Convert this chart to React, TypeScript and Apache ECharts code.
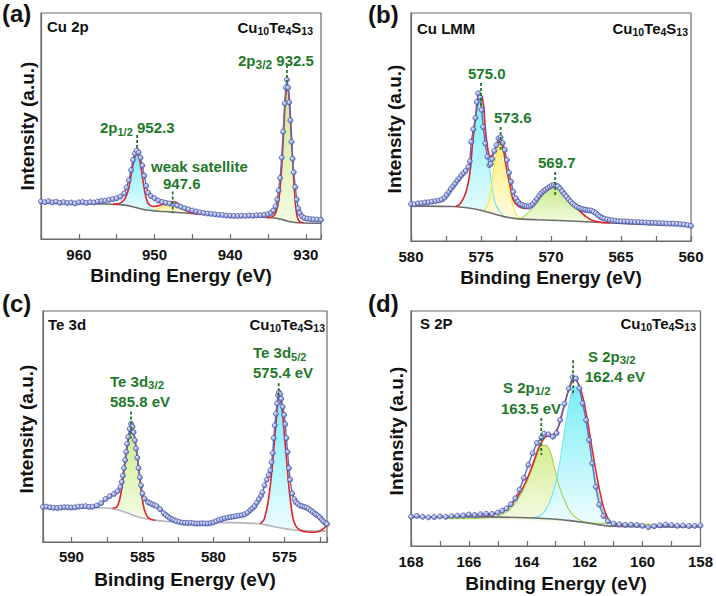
import React, { useEffect, useRef } from "react";
import * as echarts from "echarts";

// ---------- Panel (a) Cu 2p ----------
const aData: number[][] = [
  [965.0, 16.6], [964.5, 16.3], [964.0, 16.7], [963.5, 16.2], [963.0, 16.5], [962.5, 16.0], [962.0, 16.3],
  [961.5, 15.9], [961.0, 16.1], [960.5, 15.8], [960.0, 16.2], [959.5, 16.4], [959.0, 16.0], [958.5, 16.3],
  [958.0, 16.2], [957.5, 16.6], [957.0, 16.8], [956.5, 17.0], [956.0, 17.3], [955.5, 17.7], [955.0, 18.0],
  [954.5, 18.8], [954.0, 20.2], [953.7, 22.8], [953.4, 26.0], [953.1, 30.5], [952.85, 35.0], [952.6, 37.8],
  [952.35, 39.1], [952.1, 38.3], [951.85, 36.0], [951.6, 32.5], [951.35, 28.0], [951.1, 23.5], [950.85, 20.5],
  [950.5, 19.0], [950.0, 18.0], [949.5, 17.0], [949.0, 16.4], [948.5, 16.0], [948.0, 15.7], [947.5, 15.4],
  [947.0, 14.8], [946.5, 14.2], [946.0, 13.6], [945.5, 13.1], [945.0, 12.6], [944.5, 12.2], [944.0, 11.8],
  [943.5, 11.5], [943.0, 11.3], [942.5, 11.1], [942.0, 10.9], [941.5, 10.7], [941.0, 10.6], [940.5, 10.4],
  [940.0, 10.3], [939.5, 10.2], [939.0, 10.2], [938.5, 10.3], [938.0, 10.2], [937.5, 10.4], [937.0, 10.3],
  [936.5, 10.5], [936.0, 10.5], [935.5, 10.7], [935.0, 11.0], [934.6, 11.6], [934.3, 12.6], [934.0, 14.5],
  [933.8, 17.5], [933.6, 21.5], [933.4, 27.0], [933.2, 36.0], [933.0, 47.5], [932.8, 60.0], [932.65, 67.0],
  [932.5, 70.5], [932.35, 67.0], [932.2, 60.5], [932.05, 52.5], [931.9, 43.0], [931.75, 35.5], [931.6, 29.5],
  [931.4, 23.0], [931.2, 17.5], [931.0, 13.5], [930.8, 11.5], [930.5, 10.0], [930.2, 9.3], [929.8, 9.0],
  [929.4, 8.8], [929.0, 8.7], [928.5, 8.6], [928.0, 8.5],
];
const aBackground: number[][] = [
  [965, 15.9], [960, 15.7], [957, 15.5], [955, 15.3], [954, 15.0], [953, 14.4], [952, 13.5], [951, 12.8],
  [950, 12.4], [948, 12.0], [945, 11.3], [942, 10.7], [938, 10.1], [935, 9.5], [934, 9.2], [933.3, 8.7],
  [932.5, 8.0], [931.8, 7.5], [931, 7.2], [929.5, 7.0], [928, 7.0],
];
const aEnvelope1: number[][] = [
  [955.5, 15.3], [954.8, 15.6], [954.2, 16.6], [953.8, 18.5], [953.4, 22.5], [953.1, 28.0], [952.8, 33.5],
  [952.55, 36.8], [952.3, 37.5], [952.05, 36.2], [951.8, 32.0], [951.5, 25.5], [951.2, 19.5], [950.9, 16.2],
  [950.5, 14.7], [950.0, 14.4], [949.4, 14.8], [948.8, 15.5], [948.2, 16.2], [947.6, 16.5], [947.0, 15.9],
  [946.5, 14.6], [946.0, 13.0], [945.5, 11.9], [945.0, 11.4], [944.2, 11.1],
];
const aEnvelope2: number[][] = [
  [935.2, 9.5], [934.6, 9.6], [934.2, 10.5], [933.9, 12.5], [933.6, 17.0], [933.35, 24.5], [933.1, 37.0],
  [932.9, 50.0], [932.7, 61.5], [932.55, 66.5], [932.4, 67.5], [932.25, 64.5], [932.05, 55.0], [931.85, 42.0],
  [931.65, 29.0], [931.45, 18.5], [931.25, 11.8], [931.0, 8.6], [930.7, 7.6], [930.3, 7.2],
];
// fitted components: [energy, base, top]
const aPeak2p12: number[][] = [
  [955.3, 15.3, 15.35], [954.8, 15.2, 15.55], [954.2, 15.0, 16.5], [953.8, 14.8, 18.3], [953.4, 14.5, 22.2],
  [953.1, 14.3, 27.6], [952.8, 14.0, 33.0], [952.55, 13.8, 36.2], [952.3, 13.6, 36.9], [952.05, 13.4, 35.5],
  [951.8, 13.2, 31.2], [951.5, 13.0, 24.6], [951.2, 12.8, 18.6], [950.9, 12.6, 15.0], [950.5, 12.5, 13.2],
  [950.0, 12.4, 12.7], [949.4, 12.3, 12.4],
];
const aSatellite: number[][] = [
  [950.3, 12.45, 12.5], [949.8, 12.35, 13.1], [949.2, 12.25, 14.0], [948.6, 12.1, 15.0], [948.1, 12.0, 15.7],
  [947.6, 11.9, 16.0], [947.1, 11.8, 15.6], [946.6, 11.7, 14.5], [946.1, 11.55, 13.0], [945.6, 11.4, 11.9],
  [945.0, 11.3, 11.35],
];
const aPeak2p32: number[][] = [
  [935.0, 9.5, 9.55], [934.4, 9.3, 9.9], [934.0, 9.2, 11.0], [933.7, 9.0, 14.0], [933.45, 8.85, 20.5],
  [933.2, 8.7, 31.5], [933.0, 8.55, 43.0], [932.8, 8.4, 55.5], [932.6, 8.2, 64.0], [932.45, 8.05, 66.8],
  [932.3, 7.95, 65.8], [932.1, 7.8, 58.5], [931.9, 7.65, 46.0], [931.7, 7.55, 32.5], [931.5, 7.45, 21.0],
  [931.3, 7.35, 13.0], [931.05, 7.25, 8.6], [930.7, 7.15, 7.35],
];
// dashed peak markers: [energy, from, to]
const aMarkers: number[][] = [[932.5, 77, 69.5], [952.3, 46, 39.5], [947.6, 21, 11.4]];

// ---------- Panel (b) Cu LMM ----------
const bData: number[][] = [
  [580.0, 16.2], [579.75, 16.1], [579.5, 16.5], [579.25, 16.6], [579.0, 16.9], [578.75, 17.0], [578.5, 17.3],
  [578.25, 17.5], [578.0, 17.8], [577.8, 18.2], [577.6, 19.0], [577.45, 20.2], [577.3, 21.5], [577.15, 22.8],
  [577.0, 24.0], [576.85, 25.2], [576.7, 26.5], [576.55, 27.6], [576.4, 28.8], [576.25, 29.8], [576.1, 30.8],
  [575.9, 32.5], [575.8, 35.0], [575.7, 43.5], [575.55, 49.0], [575.4, 54.0], [575.3, 61.0], [575.2, 64.8],
  [575.05, 63.0], [574.95, 57.5], [574.85, 50.0], [574.7, 42.8], [574.55, 37.0], [574.4, 33.3], [574.3, 33.8],
  [574.2, 36.0], [574.05, 39.5], [573.9, 42.1], [573.75, 45.0], [573.6, 45.5], [573.45, 43.0], [573.3, 40.0],
  [573.15, 35.5], [573.0, 30.0], [572.85, 26.0], [572.7, 21.6], [572.5, 18.7], [572.35, 17.2], [572.2, 16.2],
  [572.05, 15.8], [571.9, 15.4], [571.75, 15.2], [571.6, 15.1], [571.45, 15.5], [571.3, 16.2], [571.15, 17.3],
  [571.0, 18.5], [570.85, 19.8], [570.7, 20.9], [570.55, 21.8], [570.4, 22.5], [570.25, 23.2], [570.1, 23.8],
  [569.95, 24.3], [569.8, 24.6], [569.65, 24.4], [569.5, 24.0], [569.35, 23.0], [569.2, 21.8], [569.05, 20.6],
  [568.9, 19.5], [568.75, 18.4], [568.6, 17.3], [568.45, 16.4], [568.3, 15.6], [568.15, 15.0], [568.0, 14.5],
  [567.85, 14.2], [567.7, 13.9], [567.55, 13.7], [567.4, 13.5], [567.25, 13.4], [567.1, 13.3], [566.95, 12.8],
  [566.8, 12.2], [566.65, 11.4], [566.5, 10.7], [566.35, 10.2], [566.2, 9.8], [566.0, 9.5], [565.8, 9.2],
  [565.6, 9.0], [565.4, 8.8], [565.2, 8.7], [565.0, 8.6], [564.75, 8.6], [564.5, 8.5], [564.25, 8.4],
  [564.0, 8.3], [563.75, 8.3], [563.5, 8.2], [563.25, 8.1], [563.0, 8.0], [562.75, 8.0], [562.5, 7.9],
  [562.25, 7.8], [562.0, 7.8], [561.75, 7.7], [561.5, 7.6], [561.25, 7.6], [561.0, 7.5], [560.75, 7.4],
  [560.5, 7.2], [560.25, 7.0], [560.0, 6.6],
];
const bBackground: number[][] = [
  [580, 15.4], [577, 15.1], [576, 14.6], [575, 13.5], [574.5, 12.6], [573.5, 10.9], [572.5, 9.8], [571, 9.3],
  [569, 8.9], [566, 8.0], [563, 7.3], [560, 6.7],
];
const bEnvelope: number[][] = [
  [576.8, 15.1], [576.5, 16.2], [576.1, 20.9], [575.8, 29.6], [575.6, 42.8], [575.35, 55.9], [575.15, 62.6],
  [575.0, 64.0], [574.8, 58.9], [574.7, 48.7], [574.5, 39.9], [574.35, 37.0], [574.1, 38.5], [573.8, 42.8],
  [573.65, 43.6], [573.4, 39.9], [573.2, 32.6], [572.9, 23.8], [572.7, 18.0], [572.3, 15.1], [571.8, 14.3],
  [571.3, 16.5], [570.6, 20.9], [570.0, 23.8], [569.7, 24.3], [569.3, 23.1], [568.6, 18.0], [567.9, 12.9],
  [567.2, 9.5], [566.5, 8.2], [565.8, 7.9],
];
const bPeak5750: number[][] = [
  [576.8, 15.1, 15.2], [576.5, 15.0, 16.1], [576.1, 14.9, 20.8], [575.8, 14.7, 29.5], [575.6, 14.5, 42.5],
  [575.35, 14.2, 55.5], [575.15, 14.0, 62.0], [575.0, 13.8, 63.3], [574.8, 13.5, 57.5], [574.6, 13.2, 46.0],
  [574.4, 12.9, 33.0], [574.2, 12.6, 23.0], [574.0, 12.3, 17.0], [573.7, 11.8, 13.2], [573.4, 11.2, 11.4],
];
const bPeak5736: number[][] = [
  [574.8, 13.2, 13.3], [574.5, 12.8, 16.0], [574.3, 12.6, 22.0], [574.1, 12.3, 31.0], [573.9, 12.0, 38.5],
  [573.7, 11.6, 42.0], [573.55, 11.3, 42.3], [573.4, 11.0, 38.8], [573.2, 10.6, 31.8], [573.0, 10.3, 24.0],
  [572.8, 10.0, 17.5], [572.6, 9.8, 13.0], [572.3, 9.6, 10.3], [572.0, 9.5, 9.6],
];
const bPeak5697: number[][] = [
  [572.2, 9.5, 9.6], [571.8, 9.4, 11.5], [571.3, 9.3, 14.5], [570.8, 9.2, 18.5], [570.3, 9.1, 22.0],
  [569.9, 9.0, 23.6], [569.7, 9.0, 23.9], [569.4, 8.9, 23.2], [569.0, 8.8, 21.0], [568.6, 8.7, 17.8],
  [568.2, 8.6, 14.5], [567.8, 8.5, 12.0], [567.3, 8.3, 9.8], [566.8, 8.2, 8.6], [566.3, 8.0, 8.1],
];
const bMarkers: number[][] = [[575.0, 69.3, 58.8], [573.6, 50, 40], [569.7, 30.3, 19.3]];

// ---------- Panel (c) Te 3d ----------
const cData: number[][] = [
  [592.0, 15.2], [591.75, 15.3], [591.5, 15.0], [591.25, 14.8], [591.0, 14.7], [590.75, 14.9], [590.5, 15.1],
  [590.25, 15.0], [590.0, 14.9], [589.75, 15.0], [589.5, 15.3], [589.25, 15.4], [589.0, 15.5], [588.75, 15.2],
  [588.5, 15.3], [588.2, 15.8], [587.9, 16.8], [587.6, 18.6], [587.3, 19.8], [587.0, 20.8], [586.75, 22.0],
  [586.55, 23.8], [586.45, 26.0], [586.38, 28.7], [586.3, 32.0], [586.22, 35.5], [586.15, 39.0], [586.08, 42.5],
  [586.0, 45.5], [585.9, 49.0], [585.8, 51.2], [585.7, 50.0], [585.62, 47.5], [585.53, 44.0], [585.45, 40.5],
  [585.36, 36.5], [585.27, 32.0], [585.18, 28.0], [585.1, 24.5], [585.0, 21.0], [584.85, 18.8], [584.6, 17.2],
  [584.45, 16.8], [584.3, 16.3], [584.15, 15.9], [584.0, 15.5], [583.75, 14.2], [583.5, 12.5], [583.35, 11.7],
  [583.2, 11.0], [583.05, 10.3], [582.9, 9.8], [582.75, 9.4], [582.6, 9.0], [582.4, 8.7], [582.2, 8.4],
  [582.0, 8.3], [581.8, 8.2], [581.6, 8.3], [581.4, 8.1], [581.2, 8.0], [581.0, 8.0], [580.8, 8.1],
  [580.6, 8.0], [580.4, 8.0], [580.2, 8.2], [580.0, 8.5], [579.8, 9.0], [579.6, 9.5], [579.4, 9.9],
  [579.2, 10.3], [579.0, 10.6], [578.8, 10.8], [578.6, 11.0], [578.4, 11.2], [578.2, 11.4], [578.0, 11.6],
  [577.8, 12.0], [577.6, 12.7], [577.4, 13.8], [577.25, 14.6], [577.1, 15.5], [576.95, 17.0], [576.8, 18.5],
  [576.65, 20.0], [576.55, 21.5], [576.4, 24.5], [576.25, 27.0], [576.1, 29.0], [576.0, 31.0], [575.9, 34.5],
  [575.82, 38.5], [575.75, 45.0], [575.68, 50.5], [575.6, 55.5], [575.52, 60.0], [575.45, 63.5], [575.38, 64.8],
  [575.3, 64.0], [575.22, 62.0], [575.12, 58.5], [575.02, 55.0], [574.94, 51.0], [574.86, 45.0], [574.78, 39.0],
  [574.68, 32.0], [574.6, 27.0], [574.45, 21.0], [574.3, 18.5], [574.2, 17.3], [574.05, 16.5], [573.9, 15.8],
  [573.75, 15.5], [573.6, 15.2], [573.45, 14.9], [573.3, 14.4], [573.15, 13.7], [573.0, 13.0], [572.85, 12.3],
  [572.75, 11.8], [572.6, 11.2], [572.5, 10.6], [572.35, 9.6], [572.25, 8.9], [572.1, 8.2], [572.0, 7.8],
];
const cBackground: number[][] = [
  [592, 15.0], [590, 14.9], [588, 14.8], [587.2, 14.5], [586.5, 13.5], [586, 12.4], [585.5, 11.3], [585, 10.4],
  [584.5, 9.8], [583.5, 9.0], [582, 8.6], [580, 8.5], [578, 8.3], [577, 8.0], [576.3, 7.4], [575.7, 6.6],
  [575, 5.8], [574.3, 5.2], [573.5, 4.8], [572, 4.7],
];
const cEnvelope1: number[][] = [
  [587.1, 14.6], [586.8, 15.2], [586.6, 18.5], [586.45, 23.5], [586.3, 30.5], [586.15, 38.0], [586.0, 44.0],
  [585.85, 47.8], [585.72, 48.5], [585.58, 46.3], [585.45, 41.5], [585.3, 34.0], [585.15, 25.5], [585.0, 18.5],
  [584.85, 13.8], [584.65, 11.0], [584.4, 9.8], [584.1, 9.4],
];
const cEnvelope2: number[][] = [
  [576.7, 8.0], [576.45, 9.5], [576.2, 15.5], [576.0, 24.0], [575.85, 33.0], [575.7, 43.5], [575.55, 54.5],
  [575.42, 62.0], [575.28, 61.5], [575.14, 56.0], [575.0, 46.5], [574.85, 36.0], [574.7, 25.0], [574.55, 16.5],
  [574.4, 10.5], [574.2, 7.0], [573.9, 5.2], [573.4, 4.3], [572.9, 4.2], [572.5, 4.8], [572.2, 6.0], [572.0, 7.5],
];
const cPeak32: number[][] = [
  [587.0, 14.5, 14.9], [586.8, 14.3, 15.1], [586.6, 14.0, 18.3], [586.45, 13.8, 23.3], [586.3, 13.5, 30.3],
  [586.15, 13.2, 37.8], [586.0, 12.9, 43.8], [585.85, 12.6, 47.6], [585.72, 12.4, 48.3], [585.58, 12.1, 46.1],
  [585.45, 11.8, 41.3], [585.3, 11.5, 33.8], [585.15, 11.2, 25.3], [585.0, 10.9, 18.3], [584.85, 10.6, 13.6],
  [584.65, 10.3, 10.8], [584.4, 9.9, 10.0],
];
const cPeak52: number[][] = [
  [576.7, 7.9, 8.0], [576.45, 7.6, 9.5], [576.2, 7.3, 15.3], [576.0, 7.0, 23.8], [575.85, 6.8, 32.8],
  [575.7, 6.6, 43.3], [575.55, 6.4, 54.3], [575.42, 6.25, 61.8], [575.28, 6.1, 61.3], [575.14, 5.95, 55.8],
  [575.0, 5.8, 46.3], [574.85, 5.65, 35.8], [574.7, 5.5, 24.8], [574.55, 5.35, 16.3], [574.4, 5.25, 10.3],
  [574.2, 5.15, 6.8], [573.9, 5.0, 5.3],
];
const cMarkers: number[][] = [[585.8, 56.5, 44.8], [575.4, 68.7, 62.2]];

// ---------- Panel (d) S 2p ----------
const dData: number[][] = [
  [168.0, 12.5], [167.8, 12.8], [167.6, 12.4], [167.4, 12.2], [167.2, 12.3], [167.0, 12.6], [166.8, 12.4],
  [166.6, 12.7], [166.4, 12.9], [166.2, 13.0], [166.0, 13.4], [165.8, 13.2], [165.6, 13.5], [165.4, 13.7],
  [165.2, 13.6], [165.0, 14.2], [164.85, 15.0], [164.7, 16.0], [164.55, 17.8], [164.4, 20.3], [164.25, 24.0],
  [164.1, 29.0], [163.95, 34.5], [163.8, 39.5], [163.65, 43.8], [163.5, 46.0], [163.4, 47.8], [163.25, 47.5],
  [163.1, 46.5], [162.97, 48.0], [162.85, 53.6], [162.7, 60.5], [162.55, 67.0], [162.42, 71.8], [162.3, 71.3],
  [162.18, 67.1], [162.07, 60.7], [161.95, 53.6], [161.85, 45.1], [161.74, 35.2], [161.62, 25.2], [161.5, 17.6],
  [161.35, 12.8], [161.2, 10.6], [161.0, 9.5], [160.8, 9.2], [160.6, 9.0], [160.4, 9.1], [160.2, 8.9],
  [160.0, 8.6], [159.8, 8.0], [159.6, 8.4], [159.4, 8.8], [159.2, 9.1], [159.0, 8.9], [158.8, 8.6],
  [158.6, 8.7], [158.4, 8.5], [158.2, 8.6], [158.0, 8.7],
];
const dBackground: number[][] = [
  [168, 12.4], [166, 12.4], [165, 12.3], [164, 12.0], [163, 11.4], [162.5, 10.8], [162, 10.0], [161.5, 9.0],
  [161, 8.4], [160, 8.2], [158, 8.1],
];
const dEnvelope: number[][] = [
  [165.5, 12.6], [165.4, 12.9], [165.0, 13.9], [164.7, 15.8], [164.45, 18.8], [164.2, 23.3], [164.0, 28.3],
  [163.8, 34.5], [163.65, 39.8], [163.5, 44.0], [163.35, 46.5], [163.2, 47.0], [163.05, 47.8], [162.9, 51.0],
  [162.75, 57.5], [162.6, 64.5], [162.45, 69.5], [162.35, 70.8], [162.25, 69.8], [162.1, 65.0], [161.95, 56.5],
  [161.8, 45.5], [161.65, 34.5], [161.5, 24.5], [161.35, 16.5], [161.2, 11.8], [161.05, 9.6], [160.8, 8.7],
  [160.5, 8.4],
];
const dPeak12: number[][] = [
  [166.8, 11.7, 11.75], [166.0, 11.5, 11.6], [165.4, 11.3, 11.9], [165.0, 11.2, 12.7], [164.7, 11.1, 14.5],
  [164.45, 11.0, 17.5], [164.2, 10.9, 22.0], [164.0, 10.8, 27.0], [163.8, 10.75, 33.5], [163.65, 10.7, 38.5],
  [163.5, 10.65, 42.5], [163.35, 10.6, 42.8], [163.2, 10.55, 40.5], [163.05, 10.5, 33.5], [162.87, 10.4, 25.0],
  [162.6, 10.3, 16.8], [162.4, 10.2, 13.0], [162.1, 10.05, 10.6], [161.8, 9.9, 9.9], [161.0, 9.6, 9.6],
  [160.0, 9.3, 9.3], [159.5, 9.2, 9.2],
];
const dPeak32: number[][] = [
  [163.9, 11.8, 11.85], [163.6, 11.6, 12.5], [163.4, 11.5, 14.5], [163.2, 11.35, 19.0], [163.0, 11.2, 27.0],
  [162.85, 11.05, 36.5], [162.7, 10.9, 48.5], [162.55, 10.75, 60.0], [162.4, 10.6, 67.5], [162.3, 10.45, 68.0],
  [162.15, 10.25, 64.0], [162.0, 10.0, 56.0], [161.85, 9.75, 45.0], [161.7, 9.5, 33.5], [161.55, 9.25, 23.5],
  [161.4, 9.0, 16.0], [161.25, 8.8, 11.5], [161.1, 8.6, 9.3], [160.9, 8.45, 8.5],
];
const dMarkers: number[][] = [[162.4, 79, 64], [163.5, 54.5, 38.7]];

// ---------- x axes: [min, max, tick step, label step] ----------
const xAxisSpecs: number[][] = [
  [928, 965, 5, 10],
  [560, 580, 2.5, 5],
  [572, 592, 2.5, 5],
  [158, 168, 1, 2],
];

const FF = "'Liberation Sans', Arial, Helvetica, sans-serif";
const AXIS = "#6b6b6b";
const GREEN = "#1f7a2a";
const RED = "#e3262c";
const GRAY = "#6e6e6e";

const grids = [
  { left: 41, top: 13, width: 280, height: 226 },
  { left: 411, top: 13, width: 280, height: 228 },
  { left: 43, top: 311, width: 284, height: 231 },
  { left: 411, top: 311, width: 291, height: 235 },
];

function grad(top: string, bottom: string) {
  return {
    type: "linear", x: 0, y: 0, x2: 0, y2: 1, global: false,
    colorStops: [{ offset: 0, color: top }, { offset: 1, color: bottom }],
  };
}

function dataSeries(gi: number, data: number[][]) {
  return {
    type: "line", xAxisIndex: gi, yAxisIndex: gi, data, z: 6,
    symbol: "circle", symbolSize: 5, showSymbol: true,
    lineStyle: { color: "#5f6ec4", width: 1.4 },
    itemStyle: {
      color: {
        type: "radial", x: 0.35, y: 0.35, r: 0.7,
        colorStops: [{ offset: 0, color: "#e8ebff" }, { offset: 1, color: "#6574c4" }],
      },
      borderColor: "#3e4c9e", borderWidth: 0.7,
    },
    emphasis: { disabled: true },
  };
}

function curve(gi: number, data: number[][], color: string, width: number, z: number) {
  return {
    type: "line", xAxisIndex: gi, yAxisIndex: gi, data, z, smooth: 0.3,
    symbol: "none", lineStyle: { color, width }, emphasis: { disabled: true },
  };
}

// filled fit component: polygon between base and top, drawn through the axes
function component(gi: number, tri: number[][], top: string, bottom: string, line: string) {
  return [
    {
      type: "custom", xAxisIndex: gi, yAxisIndex: gi, z: 2, silent: true, clip: true,
      data: tri.map((p) => [p[0], p[2], p[1]]),
      renderItem: (params: any, api: any) => {
        if (params.dataIndex !== 0) return null;
        const upper = tri.map((p) => api.coord([p[0], p[2]]));
        const lower = tri.slice().reverse().map((p) => api.coord([p[0], p[1]]));
        return {
          type: "polygon",
          shape: { points: upper.concat(lower), smooth: 0.25 },
          style: { fill: grad(top, bottom), stroke: "none" },
        };
      },
    },
    curve(gi, tri.map((p) => [p[0], p[2]]), line, 1.1, 3),
  ];
}

function markers(gi: number, list: number[][]) {
  return list.map((m) => ({
    type: "line", xAxisIndex: gi, yAxisIndex: gi, z: 8, symbol: "none",
    data: [[m[0], m[1]], [m[0], m[2]]],
    lineStyle: { color: GREEN, width: 1.8, type: [3, 2] }, emphasis: { disabled: true },
  }));
}

// text with optional subscripts: {n|main} and {s|sub}
function txt(x: number, y: number, text: string, o: any = {}) {
  const size = o.size || 15;
  const sub = o.sub || 10.5;
  const color = o.color || "#111";
  const L = 9 + sub; // line height that lowers subscripts by ~4.5px
  return {
    type: "text", x, y, rotation: o.rotation || 0, z: 20,
    style: {
      text, fill: color, fontSize: size, fontWeight: "bold", fontFamily: FF,
      align: o.align || "left", verticalAlign: "middle",
      textAlign: o.align || "left", textVerticalAlign: "middle",
      lineHeight: L,
      rich: {
        s: {
          fontSize: sub, fontWeight: "bold", fontFamily: FF, fill: color,
          verticalAlign: "bottom", lineHeight: L,
        },
        n: {
          fontSize: size, fontWeight: "bold", fontFamily: FF, fill: color,
          verticalAlign: "middle", lineHeight: L,
        },
      },
    },
  };
}

const FORMULA = "{n|Cu}{s|10}{n|Te}{s|4}{n|S}{s|13}";

export default function App() {
  const ref = useRef<HTMLDivElement>(null);
  useEffect(() => {
    if (!ref.current) return;
    const chart = echarts.init(ref.current, undefined, { renderer: "svg" });
    const xAxis = xAxisSpecs.map((s, i) => ({
      type: "value", gridIndex: i, min: s[0], max: s[1], inverse: true,
      minInterval: s[2], maxInterval: s[2], splitNumber: 8,
      axisLine: { show: true, onZero: false, lineStyle: { color: AXIS, width: 1.2 } },
      axisTick: { show: true, inside: true, length: 5, lineStyle: { color: AXIS, width: 1.2 } },
      splitLine: { show: false },
      axisLabel: {
        show: true, margin: i === 2 ? 7 : 8, color: "#111", fontSize: 15, fontWeight: "bold", fontFamily: FF,
        formatter: (v: number) => {
          const q = v / s[3];
          return Math.abs(q - Math.round(q)) < 1e-6 ? String(Math.round(v * 10) / 10) : "";
        },
      },
    }));
    const yAxis = grids.map((_, i) => ({
      type: "value", gridIndex: i, min: 0, max: 100,
      axisLine: { show: true, onZero: false, lineStyle: { color: AXIS, width: 1.2 } },
      axisTick: { show: false }, axisLabel: { show: false }, splitLine: { show: false },
    }));

    const series: any[] = [
      // (a)
      ...component(0, aPeak2p12, "#7cf0f7", "#e8fcfd", "#86eaf0"),
      ...component(0, aSatellite, "#fff07a", "#fffbe3", "#f4e55a"),
      ...component(0, aPeak2p32, "#cdeb8b", "#f3fbe2", "#bfe07a"),
      curve(0, aBackground, GRAY, 1.6, 4),
      curve(0, aEnvelope1, RED, 1.6, 5),
      curve(0, aEnvelope2, RED, 1.6, 5),
      dataSeries(0, aData),
      ...markers(0, aMarkers),
      // (b)
      ...component(1, bPeak5750, "#7cf0f7", "#e8fcfd", "#70e6ee"),
      ...component(1, bPeak5736, "#fff07a", "#fffbe3", "#f2ea3c"),
      ...component(1, bPeak5697, "#c9e98a", "#f3fbe2", "#b5dc6a"),
      curve(1, bBackground, GRAY, 1.6, 4),
      curve(1, bEnvelope, RED, 1.6, 5),
      dataSeries(1, bData),
      ...markers(1, bMarkers),
      // (c)
      ...component(2, cPeak32, "#c9ee86", "#f5fce8", "#b5dc6a"),
      ...component(2, cPeak52, "#7cf0f7", "#eefcfd", "#86eaf0"),
      curve(2, cBackground, "#b4b4bc", 1.6, 4),
      curve(2, cEnvelope1, RED, 1.6, 5),
      curve(2, cEnvelope2, RED, 1.6, 5),
      dataSeries(2, cData),
      ...markers(2, cMarkers),
      // (d)
      ...component(3, dPeak12, "#d4ee8f", "#f6fbe8", "#a6d44a"),
      ...component(3, dPeak32, "#78eef6", "#f0fdfe", "#6fe6f0"),
      curve(3, dBackground, GRAY, 1.6, 4),
      curve(3, dEnvelope, RED, 1.6, 5),
      dataSeries(3, dData),
      ...markers(3, dMarkers),
    ];

    const graphic = [
      txt(2, 13, "(a)", { size: 24 }),
      txt(368, 14, "(b)", { size: 24 }),
      txt(2, 303, "(c)", { size: 24 }),
      txt(368, 303, "(d)", { size: 24 }),
      txt(47, 26, "Cu 2p"),
      txt(417, 28, "Cu LMM"),
      txt(48, 324, "Te 3d"),
      txt(420, 323, "S 2P"),
      txt(313, 27, FORMULA, { align: "right" }),
      txt(688, 28, FORMULA, { align: "right" }),
      txt(325, 324, FORMULA, { align: "right" }),
      txt(696, 323, FORMULA, { align: "right" }),
      txt(181, 275, "Binding Energy (eV)", { size: 19, align: "center" }),
      txt(551, 277, "Binding Energy (eV)", { size: 19, align: "center" }),
      txt(185, 579, "Binding Energy (eV)", { size: 19, align: "center" }),
      txt(556, 583, "Binding Energy (eV)", { size: 19, align: "center" }),
      txt(27, 126, "Intensity (a.u.)", { size: 19, align: "center", rotation: Math.PI / 2 }),
      txt(394, 129, "Intensity (a.u.)", { size: 19, align: "center", rotation: Math.PI / 2 }),
      txt(26, 429, "Intensity (a.u.)", { size: 19, align: "center", rotation: Math.PI / 2 }),
      txt(396, 431, "Intensity (a.u.)", { size: 19, align: "center", rotation: Math.PI / 2 }),
      txt(238, 60, "{n|2p}{s|3/2}{n| 932.5}", { color: GREEN, sub: 12 }),
      txt(100, 127, "{n|2p}{s|1/2}{n| 952.3}", { color: GREEN, sub: 11 }),
      txt(151, 166, "weak satellite", { color: GREEN }),
      txt(163, 183, "947.6", { color: GREEN }),
      txt(468, 73, "575.0", { color: GREEN }),
      txt(494, 117, "573.6", { color: GREEN }),
      txt(538, 162, "569.7", { color: GREEN }),
      txt(110, 381, "{n|Te 3d}{s|3/2}", { color: GREEN, sub: 11.5 }),
      txt(110, 401, "585.8 eV", { color: GREEN }),
      txt(253, 352, "{n|Te 3d}{s|5/2}", { color: GREEN, sub: 11 }),
      txt(253, 372, "575.4 eV", { color: GREEN }),
      txt(588, 356, "{n|S 2p}{s|3/2}", { color: GREEN, sub: 11.5 }),
      txt(585, 376, "162.4 eV", { color: GREEN }),
      txt(503, 387, "{n|S 2p}{s|1/2}", { color: GREEN, sub: 11.5 }),
      txt(501, 408, "163.5 eV", { color: GREEN }),
    ];

    chart.setOption({
      animation: false,
      backgroundColor: "#ffffff",
      grid: grids.map((g) => ({ ...g, show: true, borderColor: AXIS, borderWidth: 1.2, backgroundColor: "transparent" })),
      xAxis, yAxis, series, graphic,
    });
    return () => chart.dispose();
  }, []);
  return (
    <div
      ref={ref}
      style={{ position: "fixed", left: 0, top: 0, width: 716, height: 596, background: "#fff" }}
    />
  );
}
